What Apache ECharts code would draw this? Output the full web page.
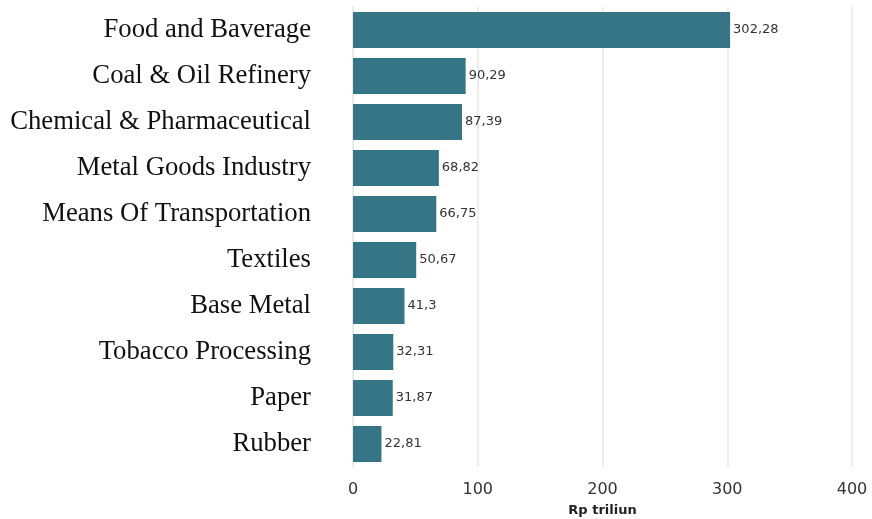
<!DOCTYPE html>
<html>
<head>
<meta charset="utf-8">
<script src="https://cdn.jsdelivr.net/npm/echarts@6/dist/echarts.min.js"></script>
<style>
  html, body { margin: 0; padding: 0; background: #fff; }
  #bar { width: 872px; height: 519px; }
</style>
</head>
<body>
<div id="bar"></div>
<script>
var categories = ['Food and Baverage', 'Coal & Oil Refinery', 'Chemical & Pharmaceutical',
    'Metal Goods Industry', 'Means Of Transportation', 'Textiles', 'Base Metal',
    'Tobacco Processing', 'Paper', 'Rubber'];
var values = [302.28, 90.29, 87.39, 68.82, 66.75, 50.67, 41.3, 32.31, 31.87, 22.81];
var xTicks = [0, 100, 200, 300, 400];

//画条形图
(function drawBar() {
    var chartDom = document.getElementById('bar');
    var myChart = echarts.init(chartDom);
    var option;

    option = {
        animation: false,
        color: ['#357586'],
        grid: {
            left: 353,
            right: 20,
            top: 7,
            bottom: 52,
            outerBoundsMode: 'none'
        },
        xAxis: {
            type: 'value',
            min: xTicks[0],
            max: xTicks[xTicks.length - 1],
            interval: 100,
            name: 'Rp triliun',
            nameLocation: 'middle',
            nameGap: 37,
            nameTextStyle: {
                fontFamily: 'DejaVu Sans',
                fontWeight: 'bold',
                fontSize: 13,
                color: '#222'
            },
            axisLine: { show: false },
            axisTick: { show: false },
            axisLabel: {
                margin: 15,
                fontFamily: 'DejaVu Sans',
                fontSize: 16,
                color: '#333'
            },
            splitLine: {
                lineStyle: { color: '#e8e8e8', width: 1.5 }
            }
        },
        yAxis: {
            type: 'category',
            inverse: true,
            data: categories,
            axisLine: { show: true, lineStyle: { color: '#e8e8e8', width: 1.5 } },
            axisTick: {
                alignWithLabel: true,
                length: 12,
                lineStyle: { color: '#dcdcdc' }
            },
            axisLabel: {
                margin: 42,
                fontFamily: 'Liberation Serif',
                fontSize: 26.7,
                color: '#111'
            }
        },
        series: [
            {
                name: 'Rp triliun',
                type: 'bar',
                barCategoryGap: '22%',
                data: values,
                label: {
                    show: true,
                    position: 'right',
                    distance: 3,
                    fontFamily: 'DejaVu Sans',
                    fontSize: 13,
                    color: '#333',
                    formatter: function (p) {
                        return String(p.value).replace('.', ',');
                    }
                }
            }
        ]
    };

    option && myChart.setOption(option);
})();
</script>
</body>
</html>
